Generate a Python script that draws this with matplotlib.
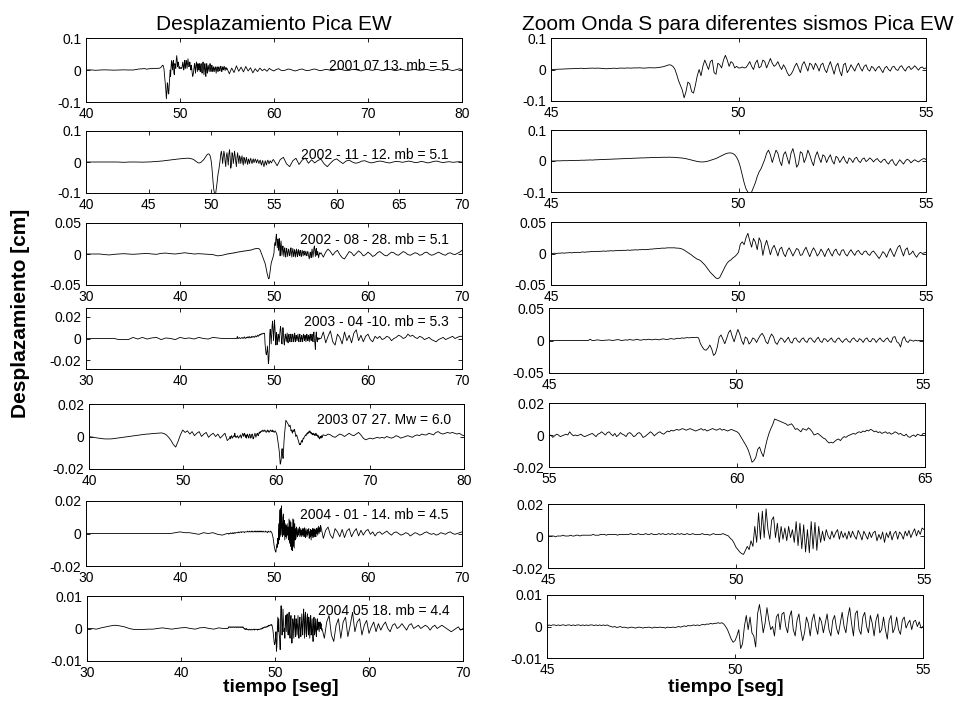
import numpy as np
import matplotlib.pyplot as plt

plt.rcParams['font.family'] = ['Liberation Sans', 'DejaVu Sans']
plt.rcParams['font.size'] = 10

# valores, en unidades de 1e-4 cm
ESCALA = 1e-4

etiquetas = ['2001 07 13. mb = 5', '2002 - 11 - 12. mb = 5.1', '2002 - 08 - 28. mb = 5.1',
             '2003 - 04 -10. mb = 5.3', '2003 07 27. Mw = 6.0', '2004 - 01 - 14. mb = 4.5',
             '2004 05 18. mb = 4.4']

rango_izq = [(40, 80), (40, 70), (30, 70), (30, 70), (40, 80), (30, 70), (30, 70)]
ventana_zoom = [(45, 55), (45, 55), (45, 55), (45, 55), (55, 65), (45, 55), (45, 55)]

ylim_izq = [0.1, 0.1, 0.05, 0.028, 0.02, 0.02, 0.01]
yticks_izq = [[-0.1, 0, 0.1], [-0.1, 0, 0.1], [-0.05, 0, 0.05], [-0.02, 0, 0.02],
              [-0.02, 0, 0.02], [-0.02, 0, 0.02], [-0.01, 0, 0.01]]
ylim_der = [0.1, 0.1, 0.05, 0.05, 0.02, 0.02, 0.01]

xticks_izq = [[40, 50, 60, 70, 80], [40, 45, 50, 55, 60, 65, 70], [30, 40, 50, 60, 70],
              [30, 40, 50, 60, 70], [40, 50, 60, 70, 80], [30, 40, 50, 60, 70], [30, 40, 50, 60, 70]]

# --- sismo 1 : 2001 07 13 ---
ev1_pre = [0, 5, -10, 0, 5, 0, -5, 0, 5, 0]
ev1_zoom = [0, 0, 5, 5, 10, 10, 15, 15, 20, 20, 25, 25, 30, 30, 30, 35, 40, 35, 30, 35,
            40, 40, 45, 40, 40, 45, 40, 35, 30, 25, 25, 30, 35, 40, 40, 35, 40, 45, 45, 40,
            45, 50, 45, 45, 50, 50, 50, 55, 50, 45, 45, 50, 55, 55, 55, 50, 55, 60, 70, 80,
            90, 110, 130, 150, 140, 100, 20, -150, -350, -500, -650, -900, -700, -400, -450, -700, -750, -500, -200, 0,
            -200, 100, 300, 150, 0, 250, 300, -100, -150, 200, 150, 50, 300, 450, 300, 100, 250, 200, 50, 100,
            50, 50, 80, 50, 60, 150, 250, 100, 0, 200, 300, 50, 100, 300, 250, 50, 200, 350, 200, 100,
            150, 250, 100, 0, 150, 50, -100, -200, -150, -50, 100, 200, 50, -100, 150, 250, 100, -50, 200, 150,
            0, 200, 100, -50, 150, 200, 0, -100, 100, 250, 50, -150, 100, 200, -50, -200, 150, 200, -100, 0,
            150, 50, -50, 100, 200, 50, -50, 100, 150, 0, -50, 100, 50, -50, 50, 100, 0, -100, 50, 100,
            0, -50, 80, 100, 0, -30, 80, 120, 20, -50, 60, 100, 0, 50, 120, 50, -20, 60, 80, 20,
            50]
ev1_post = [-120, 60, -80, 130, -40, 90, -60, 110, -30, 70, -90,
            40, -50, 60, -20, 30, -40, 50, 0, -30, 20, 40, -10,
            -20, 0, 30, 20, -10, -30, -10, 20, 30, 0, -20, -10, 10, 30, 20, -10, -20, 0, 20, 10,
            -10, -20, 0, 20, 30, 10, -10, -20, -10, 10, 20, 10, -10, -30, -10, 10, 20, 0, -10, 10,
            20, 0, -20, -10, 10, 20, 10, -10, -20, 0, 20, 10, -10, -20, 0, 10, 20, 0, -10, 0,
            10, 20, 0, -20, -10, 10, 20, 0, -10, 10, 20, 0, -20, 0, 20, 40, 10]

# --- sismo 2 : 2002-11-12 ---
ev2_pre = [0, 0, 0, 0, 0, 0, -10, 0, 0, -5]
ev2_zoom = [0, 0, 0, 5, 5, 5, 10, 10, 10, 10, 15, 15, 15, 20, 20, 20, 25, 25, 25, 30,
            30, 35, 30, 35, 40, 40, 45, 45, 50, 50, 55, 55, 60, 60, 65, 65, 70, 70, 75, 75,
            80, 80, 85, 85, 90, 90, 95, 95, 100, 100, 100, 105, 105, 110, 110, 110, 115, 115, 115, 120,
            120, 120, 120, 125, 120, 120, 115, 110, 105, 100, 95, 85, 75, 60, 45, 30, 15, 0, -15, -25,
            -30, -30, -25, -15, 0, 20, 40, 60, 80, 110, 140, 170, 200, 230, 250, 260, 260, 240, 200, 120,
            0, -200, -450, -700, -900, -1000, -1050, -1000, -850, -700, -500, -350, -250, -100, 50, 250, 350, 200, -50, 150,
            350, 250, 0, -150, 200, 300, 100, -100, 250, 400, 150, -200, -100, 300, 250, -50, 100, 350, 200, 0,
            -150, 150, 300, 100, -50, 200, 150, -50, 100, 200, 0, -100, 150, 100, -50, 50, 150, 0, -80, 100,
            50, -50, 80, 120, 0, -50, 60, 100, -20, 30, 100, 50, -30, 40, 80, 0, -50, 30, 60, -40,
            -100, 0, 50, -80, -150, -50, 40, -30, -100, 0, 60, 20, -60, 0, 40, 0, -30, 20, 60, 80,
            50]
ev2_post = [-120, 80, 150, -60, -150, 40, 120, -80, 60, 130, -40, 70,
            -30, 50, 90, -60, -150, -40, 60, 100, 20, -50, 30, 60,
            0, -40, -20, 30, 40, 0, -30, -10, 20, 30, 10, -20, -30, 0, 20, 10, -10, 10,
            30, 10, -20, -10, 20, 0, -30, -10, 20, 30, 0, -20, 0, 10, -10, 0, 10, 0]

# --- sismo 3 : 2002-08-28 ---
ev3_pre = [0, 0, 0, 0, -10, -15, -5, 0, 5, 0, -5, 0, 5, 10, 0, -5, 10, 15, 5, 0,
           10, 20, 10, 0, 5, 0, -5, -10, -30, -20]
ev3_zoom = [0, 0, 5, 0, 5, 5, 10, 5, 10, 10, 15, 10, 15, 15, 20, 15, 20, 25, 20, 25,
            25, 30, 30, 30, 35, 30, 35, 35, 40, 35, 40, 40, 45, 40, 45, 45, 50, 45, 50, 50,
            50, 55, 50, 55, 55, 60, 55, 60, 60, 65, 60, 65, 65, 70, 70, 75, 75, 80, 80, 85,
            85, 85, 90, 90, 90, 90, 90, 85, 85, 80, 70, 55, 35, 15, -5, -25, -50, -70, -90, -100,
            -120, -150, -180, -220, -260, -300, -330, -360, -390, -400, -380, -320, -260, -200, -150, -120, -100, -70, -50, -20,
            20, 150, 185, 140, 250, 320, 200, 100, 240, 180, 60, 250, 180, -30, 120, 210, 100, -20, 80, 130,
            50, -40, 70, 100, 0, -50, 40, 90, 30, -40, 20, 80, 60, -30, -20, 50, 100, 20, -50, 30,
            90, 40, -40, 0, 70, 20, -50, 30, 80, 10, -40, 40, 70, 0, -30, 50, 60, -10, -40, 20,
            60, 10, -30, 30, 50, 0, -20, 30, 40, -10, -30, 20, 40, 0, -40, -80, -30, 30, 0, -60,
            20, 80, 10, -50, 30, 100, 130, 40, -40, 60, 90, -20, 0, 40, -20, -60, -10, 20, 0, 10,
            20]
ev3_post = [-50, 30, 80, 40, -20, 30, 60, -10, -60, -80, -20, 40,
            20, -30, 10, 50, 20, -30, -10, 30, 0, -40, -20, 20,
            40, 10, -20, -30, 0, 30, 20, -10, -20, 10, 40, 20, -10, -20, 0, 20, 10, -20,
            -10, 20, 30, 0, -20, -10, 10, 30, 10, -10, -20, 10, 20, 0, -10, 10, 30, 60]

# --- sismo 4 : 2003-04-10 ---
ev4_pre = [0, 0, 0, 0, 0, 0, 0, -10, -10, -10, 10, -5, 10, -5, 5, 10, -10, 5, 0, -10,
           10, 0, 5, -5, 10, 0, -5, 10, 5, 0]
ev4_zoom = [0, 0, 0, 0, 0, 0, 0, 0, 0, 0, 0, 0, 0, 0, 0, 0, 0, 0, 0, 0,
            0, 0, 20, 0, 0, 5, 10, 5, 0, 0, 5, 5, 10, 5, 0, 5, 10, 15, 5, 0,
            5, 10, 5, 15, 10, 5, 10, 20, 10, 5, 10, 15, 10, 20, 15, 10, 15, 20, 15, 10,
            20, 25, 20, 15, 20, 30, 25, 20, 30, 35, 30, 40, 35, 40, 45, 40, 45, 45, 45, 50,
            40, -50, -100, -140, -150, -120, -70, -130, -230, -200, -100, 50, 85, 20, -50, 30, 120, 160, 60, -20,
            80, 170, 100, 0, -60, 55, 30, -55, -20, 40, 20, -30, 30, 80, 110, 60, -20, -50, 40, 100,
            60, -30, -60, 0, 40, 20, -30, 10, 50, -20, -40, 30, 40, -10, -30, 20, 40, -10, -30, 30,
            40, 0, -30, 20, 50, -10, -30, 30, 20, -20, 10, 40, -10, -30, 20, 40, 0, -30, 10, 30,
            -10, -30, 20, 40, 0, -20, 30, 10, -30, 20, 40, -10, -20, 30, 20, -30, 10, 40, 0, -20,
            20, 40, -10, -30, 50, 60, -20, -40, -100, 20, 60, -10, -30, 10, 0, -10, 5, -5, 0, 0,
            0]
ev4_post = [60, -40, 20, 70, -30, -60, 40, 10, -50, 60, -20, 30,
            -40, 50, 80, -20, 30, -30, 20, 40, -10, -30, 20, 0,
            20, -10, 0, 20, 10, -20, 0, 10, 30, 20, 0, 10, 40, 20, 30, 10, 0, 20,
            10, -10, 0, 10, -10, -20, -30, -10, 0, 10, -10, 0, 10, 20, 0, 10, 20, 20]

# --- sismo 5 : 2003 07 27 ---
ev5_pre = [0, -3, -5, -8, -10, -12, -14, -15, -15, -15, -14, -12, -10, -8, -6, -4,
           -2, 0, 2, 4, 6, 8, 10, 12, 14, 15, 16, 18, 19, 20, 21, 22,
           18, 10, -5, -25, -50, -65, -30, 10,
           40, 25, 35, 15, 30, 5, 20, 30, 0, 15, 25, -5, 10, 20, 0, 15, -10, 5, 20, -25]
ev5_zoom = [-10, 0, -15, -5, 5, 0, -10, -5, 0, 5, 0, 20, 5, -5, 0, -5, 0, 5, -5, -10,
            -5, 0, 5, 10, 0, -10, 5, 10, 20, 10, 0, 15, 20, 5, -5, 10, -10, 0, 15, 5,
            0, -10, 10, 15, 5, -10, -5, 10, 15, 5, -15, -10, 0, 10, 20, 10, -5, 5, 15, 20,
            10, 5, 15, 25, 20, 30, 25, 30, 35, 30, 35, 40, 35, 30, 35, 40, 35, 30, 25, 30,
            35, 40, 30, 35, 25, 30, 35, 40, 35, 30, 35, 40, 30, 35, 30, 25, 30, 35, 30, 25,
            20, 10, -10, -30, -50, -70, -95, -130, -170, -160, -140, -90, -75, -110, -135, -80, -30, 10, 40, 65,
            100, 95, 90, 85, 80, 75, 70, 60, 65, 70, 55, 35, 40, 30, 20, 40, 35, 30, 45, 35,
            20, 0, 5, 10, 0, -10, -20, -25, -40, -50, -45, -50, -40, -30, -25, -35, -20, -10, -15, -5,
            0, 5, 10, 5, 15, 20, 15, 25, 20, 30, 25, 35, 30, 20, 25, 15, 20, 10, 15, 20,
            10, 15, 5, 10, 20, 15, 5, 10, 0, -5, 5, -10, -15, -5, 0, -10, 5, 0, -5, 10,
            10]
ev5_post = [5, 15, 10, 0, -5, 5, 15, 10, 0, 10, 20, 10,
            5, 15, 25, 10, -10, -20, -15, -10, -15, -10, -5, -10,
            -5, -10, 0, -5, -10, -5, 5, 0, -10, -5, 0, 5, 0, -5, 5, 10, 5, 15,
            10, 10, 20, 15, 10, 25, 30, 20, 15, 20, 25, 20, 25, 20, 15, 20, 10, 5]

# --- sismo 6 : 2004-01-14 ---
ev6_pre = [0, 0, 0, 0, 0, 0, 0, 0, 0, 0, 0, 0, 0, 0, 0, 0, 0, 0, 0, 5,
           10, 5, 5, 0, -5, 5, 0, 5, -5, -10]
ev6_zoom = [0, 0, 0, 0, -5, 0, 0, 0, 5, 0, 0, 0, 5, 0, 0, 5, 5, 0, 5, 5,
            5, 5, 5, 5, 10, 5, 5, 5, 10, 10, 10, 5, 10, 10, 10, 10, 10, 5, 10, 10,
            10, 10, 10, 10, 15, 10, 10, 10, 15, 10, 10, 10, 15, 10, 10, 15, 10, 10, 10, 15,
            10, 15, 10, 10, 15, 10, 15, 10, 10, 15, 10, 15, 10, 10, 15, 10, 10, 15, 10, 10,
            10, 10, 15, 10, 10, 10, 5, 10, 15, 10, 10, 10, 10, 15, 10, 5, 0, -15, -25, -45,
            -70, -85, -100, -110, -115, -90, -65, -85, -30, -65, 60, -40, 145, -20, 155, -10, 170, 40, -20, 100,
            120, -10, 80, -40, 60, -20, 50, -30, 60, -10, 40, -40, 90, -60, 80, -80, 70, -100, 40, -105,
            90, -80, 85, -90, 60, -40, 30, -30, 40, 0, -20, 30, -10, 20, 40, -20, 30, -10, 20, -20,
            30, -10, 30, 0, -20, 35, 10, -25, 30, 5, -20, 25, -10, 20, 30, -30, 10, -20, 25, -40,
            20, -10, 30, -25, 15, 30, -20, 25, 10, -20, 30, 0, 35, -10, 20, 45, 0, 35, 10, 50,
            40]
ev6_post = [-30, 20, 40, -10, -30, 30, 10, -20, 25, -25, 15, 30,
            -20, 10, 30, -15, 20, -10, 15, 25, -5, 10, -15, 5,
            10, -5, 5, 15, 0, -10, 5, 10, 0, -10, -5, 5, 0, -15, -5, 5, 0, -10,
            -5, 5, 10, 0, -5, 0, -10, -5, 5, 0, -5, 5, 10, 0, -5, 0, 5, 10]

# --- sismo 7 : 2004 05 18 ---
ev7_pre = [0, 0, -2, 2, 5, 8, 10, 8, 5, 0, -3, -3, -3, -2, -2, 0, 2, 0, -2, 0,
           2, 3, 0, -2, 2, 3, 0, -2, 2, 0]
ev7_zoom = [0, 5, 3, 5, 5, 3, 5, 3, 5, 5, 3, 5, 5, 3, 5, 3, 5, 5, 3, 5,
            3, 5, 3, 5, 5, 3, 5, 3, 5, 3, 5, 3, 5, 2, 0, -2, 0, -3, -2, 0,
            -3, -2, -3, -5, -3, -2, -3, -5, -3, -2, -3, -5, -3, -3, -2, -3, -5, -2, -3, -3,
            -2, -3, -3, -5, -2, -3, -3, -2, -3, -2, 0, -2, 0, 2, 0, 3, 2, 3, 5, 3,
            5, 3, 5, 7, 5, 8, 7, 10, 8, 10, 10, 12, 10, 12, 8, 0, -10, -25, -40, -50,
            -45, -30, -10, -70, -55, 0, 35, -10, 30, -20, -30, -65, 40, 70, 30, -20, 10, 60, 20, -10,
            0, -30, 30, 40, -10, 40, 45, 0, -20, 30, 50, -10, -30, 20, 40, -10, -45, -20, 30, 10,
            -30, 20, 40, 0, -25, 30, 15, -20, 10, 40, -10, -30, 20, 35, -5, -25, 10, 45, 0, -20,
            30, 60, 10, -30, 40, 50, -10, -25, 30, 45, 0, -20, 35, 10, -30, 20, 40, -20, -10, 30,
            -10, -40, 20, 35, -20, -5, 30, -10, -25, 20, 30, -5, 10, 20, -10, 15, 20, 0, 15, -5,
            0]
ev7_post = [-30, 20, 40, -20, -40, 10, 30, -30, 20, 35, -25, 10,
            50, -10, 20, 30, -20, 10, 25, -15, 5, 20, -10, 15,
            -5, 10, 20, 0, -10, 10, 15, 0, 5, 15, 5, -5, 10, 15, 0, 5, 10, 0,
            5, 10, 5, -5, 5, 10, 0, 5, 10, 5, 0, -5, -10, -5, 0, 5, -5, 0]

pre = [ev1_pre, ev2_pre, ev3_pre, ev4_pre, ev5_pre, ev6_pre, ev7_pre]
zoom = [ev1_zoom, ev2_zoom, ev3_zoom, ev4_zoom, ev5_zoom, ev6_zoom, ev7_zoom]
post = [ev1_post, ev2_post, ev3_post, ev4_post, ev5_post, ev6_post, ev7_post]

# cajas de los ejes en pixeles (x0, arriba, x1, abajo)
cajas_izq = [(86, 38, 462, 102), (86, 131, 462, 193), (86, 223, 462, 285), (86, 308, 462, 369),
             (89, 404, 464, 469), (86, 501, 462, 566), (87, 596, 463, 661)]
cajas_der = [(551, 38, 926, 101), (551, 130, 926, 192), (551, 222, 926, 285), (549, 308, 923, 373),
             (549, 403, 925, 467), (548, 504, 924, 568), (547, 595, 923, 658)]
pos_texto = [0.57, 0.61, 0.73, 0.77, 0.75, 0.78, 0.77]

W, H = 962, 702
fig = plt.figure(figsize=(W / 100, H / 100), dpi=100)


def crear_eje(caja):
    x0, y0, x1, y1 = caja
    ax = fig.add_axes([x0 / W, 1 - y1 / H, (x1 - x0) / W, (y1 - y0) / H])
    ax.tick_params(direction='in', top=True, right=True, labelsize=10, length=3, width=0.6)
    for s in ax.spines.values():
        s.set_linewidth(0.7)
    return ax


for i in range(7):
    z0, z1 = ventana_zoom[i]
    l0, l1 = rango_izq[i]
    paso_pre = (z0 - l0) / len(pre[i])
    paso_post = (l1 - z1) / len(post[i])
    t_pre = l0 + paso_pre * np.arange(len(pre[i]))
    t_zoom = np.linspace(z0, z1, len(zoom[i]))
    t_post = z1 + paso_post * (np.arange(len(post[i])) + 1)
    t = np.concatenate([t_pre, t_zoom, t_post])
    y = np.concatenate([pre[i], zoom[i], post[i]]) * ESCALA

    # señal completa
    ax = crear_eje(cajas_izq[i])
    ax.plot(t, y, color='black', lw=0.6)
    ax.set_xlim(l0, l1)
    ax.set_ylim(-ylim_izq[i], ylim_izq[i])
    ax.set_xticks(xticks_izq[i])
    ax.set_yticks(yticks_izq[i])
    ax.set_yticklabels([('%g' % v) for v in yticks_izq[i]])
    ax.text(0.965, pos_texto[i], etiquetas[i], transform=ax.transAxes,
            ha='right', va='center', fontsize=10)

    # zoom de la onda S
    ax2 = crear_eje(cajas_der[i])
    ax2.plot(t_zoom, np.array(zoom[i]) * ESCALA, color='black', lw=0.6)
    ax2.set_xlim(z0, z1)
    ax2.set_ylim(-ylim_der[i], ylim_der[i])
    ax2.set_xticks([z0, (z0 + z1) / 2, z1])
    yt = [-ylim_der[i], 0, ylim_der[i]]
    ax2.set_yticks(yt)
    ax2.set_yticklabels([('%g' % v) for v in yt])

fig.text(274 / W, 1 - 24 / H, 'Desplazamiento Pica EW', ha='center', va='center', fontsize=15)
fig.text(738 / W, 1 - 24 / H, 'Zoom Onda S para diferentes sismos Pica EW', ha='center', va='center', fontsize=15)
fig.text(21 / W, 1 - 313 / H, 'Desplazamiento [cm]', rotation=90, ha='center', va='center',
         fontsize=15, fontweight='bold')
fig.text(281 / W, 1 - 692 / H, 'tiempo [seg]', ha='center', va='baseline', fontsize=14, fontweight='bold')
fig.text(726 / W, 1 - 692 / H, 'tiempo [seg]', ha='center', va='baseline', fontsize=14, fontweight='bold')

fig.savefig('out.png', dpi=100, facecolor='white')
